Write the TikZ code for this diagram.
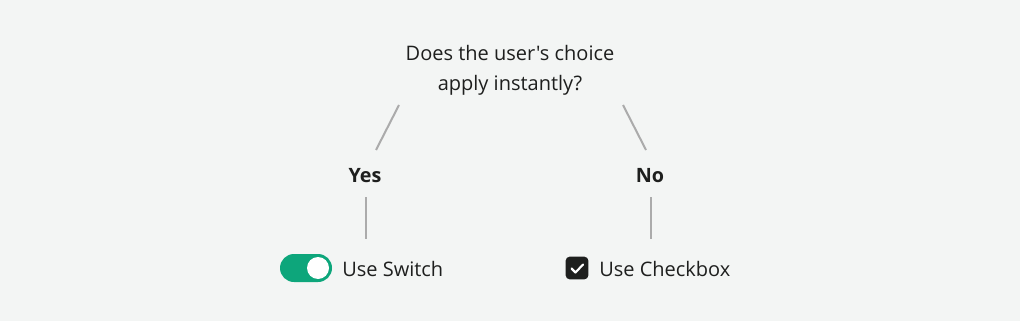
\documentclass[tikz,border=0pt]{standalone}
\usepackage{fontspec}
\setmainfont{Open Sans}[Ligatures=TeXOff]
\definecolor{bg}{HTML}{F3F5F4}
\definecolor{ink}{HTML}{1E1F1E}
\definecolor{conn}{HTML}{ABABAB}
\definecolor{green}{HTML}{0DA67B}
\begin{document}
\begin{tikzpicture}[x=0.75pt,y=-0.75pt,
  txt/.style={text=ink,inner sep=0pt,font=\fontsize{15pt}{22.5pt}\selectfont},
  lbl/.style={text=ink,inner sep=0pt,font=\fontsize{14.8pt}{16pt}\selectfont\bfseries},
  conn/.style={draw=conn,line width=1.5pt}]
\fill[bg] (0,0) rectangle (1020,321);
\useasboundingbox (0,0) rectangle (1020,321);
\node[txt,align=center] (q) at (510,70) {Does the user's choice\\apply instantly?};
\node[lbl] (yes) at (365,175.5) {Yes};
\node[lbl] (no) at (650,175.5) {No};
% connectors
\coordinate (q1) at (399,105);
\coordinate (y1) at (376,150);
\coordinate (q2) at (623,105);
\coordinate (n1) at (646,150);
\draw[conn] (q1) -- (y1);
\draw[conn] (q2) -- (n1);
\coordinate (y2) at (366,197);
\coordinate (s1) at (366,239);
\coordinate (n2) at (651,197);
\coordinate (c1) at (651,239);
\draw[conn] (y2) -- (s1);
\draw[conn] (n2) -- (c1);
% switch
\node[fill=green,rounded corners=10.5pt,minimum width=39pt,minimum height=21pt,inner sep=0pt] (sw) at (306,268) {};
\node[circle,fill=white,minimum size=16.5pt,inner sep=0pt] (knob) at (318,268) {};
\node[txt,anchor=west] (swt) at (342,269) {Use Switch};
% checkbox
\node[fill=ink,rounded corners=3pt,minimum size=17pt,inner sep=0pt] (cb) at (577,268) {};
\draw[white,line width=1.6pt,line cap=round,line join=round] (571.5,268.5) -- (575.5,272.5) -- (583,264.5);
\node[txt,anchor=west] (cbt) at (599,269) {Use Checkbox};
\end{tikzpicture}
\end{document}
